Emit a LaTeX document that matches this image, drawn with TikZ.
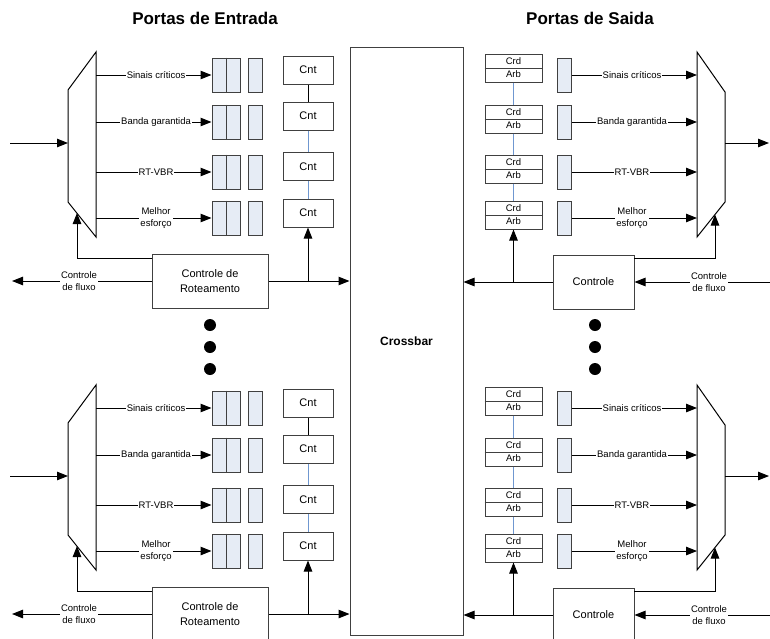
\documentclass[tikz,border=0pt]{standalone}
\usepackage{fontspec}
\setmainfont{Liberation Sans}
\usetikzlibrary{arrows.meta}
\definecolor{qfill}{HTML}{E6ECF5}
\definecolor{bdr}{HTML}{404040}
\definecolor{lnk}{HTML}{6F97D0}
\begin{document}
\begin{tikzpicture}[x=1pt,y=-1pt,
  wire/.style={line width=1pt},
  arr/.style={wire,-{Triangle[length=11pt,width=8.5pt]}},
  qbox/.style={draw=bdr,fill=qfill,line width=1pt,minimum width=14pt,minimum height=34pt,inner sep=0pt},
  qdbl/.style={qbox,minimum width=28pt},
  sbox/.style={draw=bdr,fill=white,line width=1pt,minimum width=50pt,minimum height=28pt,inner sep=0pt,font=\fontsize{11}{12}\selectfont},
  obox/.style={draw=bdr,fill=white,line width=1pt,minimum width=57pt,minimum height=28pt,inner sep=0pt,font=\fontsize{9.5}{13}\selectfont,align=center},
  ctl/.style={draw=bdr,fill=white,line width=1pt,minimum width=116pt,minimum height=54pt,inner sep=0pt,align=center,font=\fontsize{11}{15}\selectfont},
  lbl/.style={fill=white,inner sep=1pt,align=center,font=\fontsize{9.5}{11.5}\selectfont},
  ttl/.style={font=\fontsize{17}{20}\selectfont\bfseries},
  dot/.style={circle,fill=black,minimum size=12pt,inner sep=0pt}]
\useasboundingbox (0,0) rectangle (770,638);
% titles
\node[ttl] (t1) at (205,18) {Portas de Entrada};
\node[ttl] (t2) at (590,18) {Portas de Saida};
% crossbar
\node[draw=bdr,line width=1pt,minimum width=113pt,minimum height=588pt,inner sep=0pt,font=\fontsize{12}{14}\selectfont\bfseries] (xbar) at (406.5,341) {Crossbar};
% dots
\foreach \k/\yy in {1/325,2/347,3/369}{
  \node[dot] (dl\k) at (210,\yy) {};
  \node[dot] (dr\k) at (595,\yy) {};
}
\foreach \off/\s in {0/a,333/b}{
\begin{scope}[shift={(0,\off)}]
  % ---------- input port ----------
  \draw[wire] (68,90) coordinate (dtl\s) -- (96,52) coordinate (dtr\s) -- (96,237) coordinate (dbr\s) -- (68,202) coordinate (dbl\s) -- cycle;
  \coordinate (in\s) at (10,143);
  \coordinate (din\s) at (68,143);
  \draw[arr] (in\s) -- (din\s);
  \foreach \i/\yy/\txt in {1/75/Sinais críticos,2/122/Banda garantida,3/172/RT-VBR,4/218/{Melhor\\esforço}}{
    \coordinate (dm\s\i) at (96,\yy);
    \node[qdbl] (qd\s\i) at (226,\yy) {};
    \draw[wire,bdr] (qd\s\i.north) -- (qd\s\i.south);
    \node[qbox] (qs\s\i) at (255.5,\yy) {};
    \draw[arr] (dm\s\i) -- node[lbl,pos=0.52] {\txt} (qd\s\i.west);
  }
  \foreach \i/\yy in {1/70,2/116,3/166.5,4/213}{
    \node[sbox] (sb\s\i) at (308,\yy) {Cnt};
  }
  \draw[wire] (sb\s1) -- (sb\s2);
  \draw[wire,lnk] (sb\s2) -- (sb\s3);
  \draw[wire,lnk] (sb\s3) -- (sb\s4);
  \node[ctl] (ct\s) at (210,281) {Controle de\\Roteamento};
  \draw[arr] (ct\s.east) -- (ct\s.east -| xbar.west);
  \coordinate (br\s) at (sb\s4.south |- ct\s.east);
  \draw[arr] (br\s) -- (sb\s4.south);
  \coordinate (ctf\s) at (152,258);
  \coordinate (dmf\s) at (77,213);
  \draw[arr] (ctf\s) -| (dmf\s);
  \coordinate (lo\s) at (12,281);
  \draw[arr] (ct\s.west) -- node[lbl,pos=0.52] {Controle\\de fluxo} (lo\s);
  % ---------- output port ----------
  \draw[wire] (697,52) coordinate (mtl\s) -- (725,92) coordinate (mtr\s) -- (725,202) coordinate (mbr\s) -- (697,237) coordinate (mbl\s) -- cycle;
  \coordinate (mout\s) at (725,143);
  \coordinate (out\s) at (769,143);
  \draw[arr] (mout\s) -- (out\s);
  \foreach \i/\yy/\txt in {1/75/Sinais críticos,2/122/Banda garantida,3/172/RT-VBR,4/218/{Melhor\\esforço}}{
    \node[qbox] (os\s\i) at (564.5,\yy) {};
    \coordinate (mi\s\i) at (697,\yy);
    \draw[arr] (os\s\i.east) -- node[lbl,pos=0.48] {\txt} (mi\s\i);
  }
  \foreach \i/\yy in {1/68,2/119,3/169,4/215}{
    \node[obox] (ob\s\i) at (513.5,\yy) {Crd\\Arb};
    \draw[wire,bdr] (ob\s\i.west) -- (ob\s\i.east);
  }
  \draw[wire,lnk] (ob\s1) -- (ob\s2);
  \draw[wire,lnk] (ob\s2) -- (ob\s3);
  \draw[wire,lnk] (ob\s3) -- (ob\s4);
  \node[ctl,minimum width=81pt] (cr\s) at (593.5,282) {Controle};
  \draw[arr] (cr\s.west) -- (cr\s.west -| xbar.east);
  \coordinate (obr\s) at (ob\s4.south |- cr\s.west);
  \draw[arr] (obr\s) -- (ob\s4.south);
  \coordinate (crf\s) at (634,258);
  \coordinate (mf\s) at (715,214.5);
  \draw[arr] (crf\s) -| (mf\s);
  \coordinate (ri\s) at (770,282);
  \draw[arr] (ri\s) -- node[lbl,pos=0.45] {Controle\\de fluxo} (cr\s.east);
\end{scope}
}
\end{tikzpicture}
\end{document}
